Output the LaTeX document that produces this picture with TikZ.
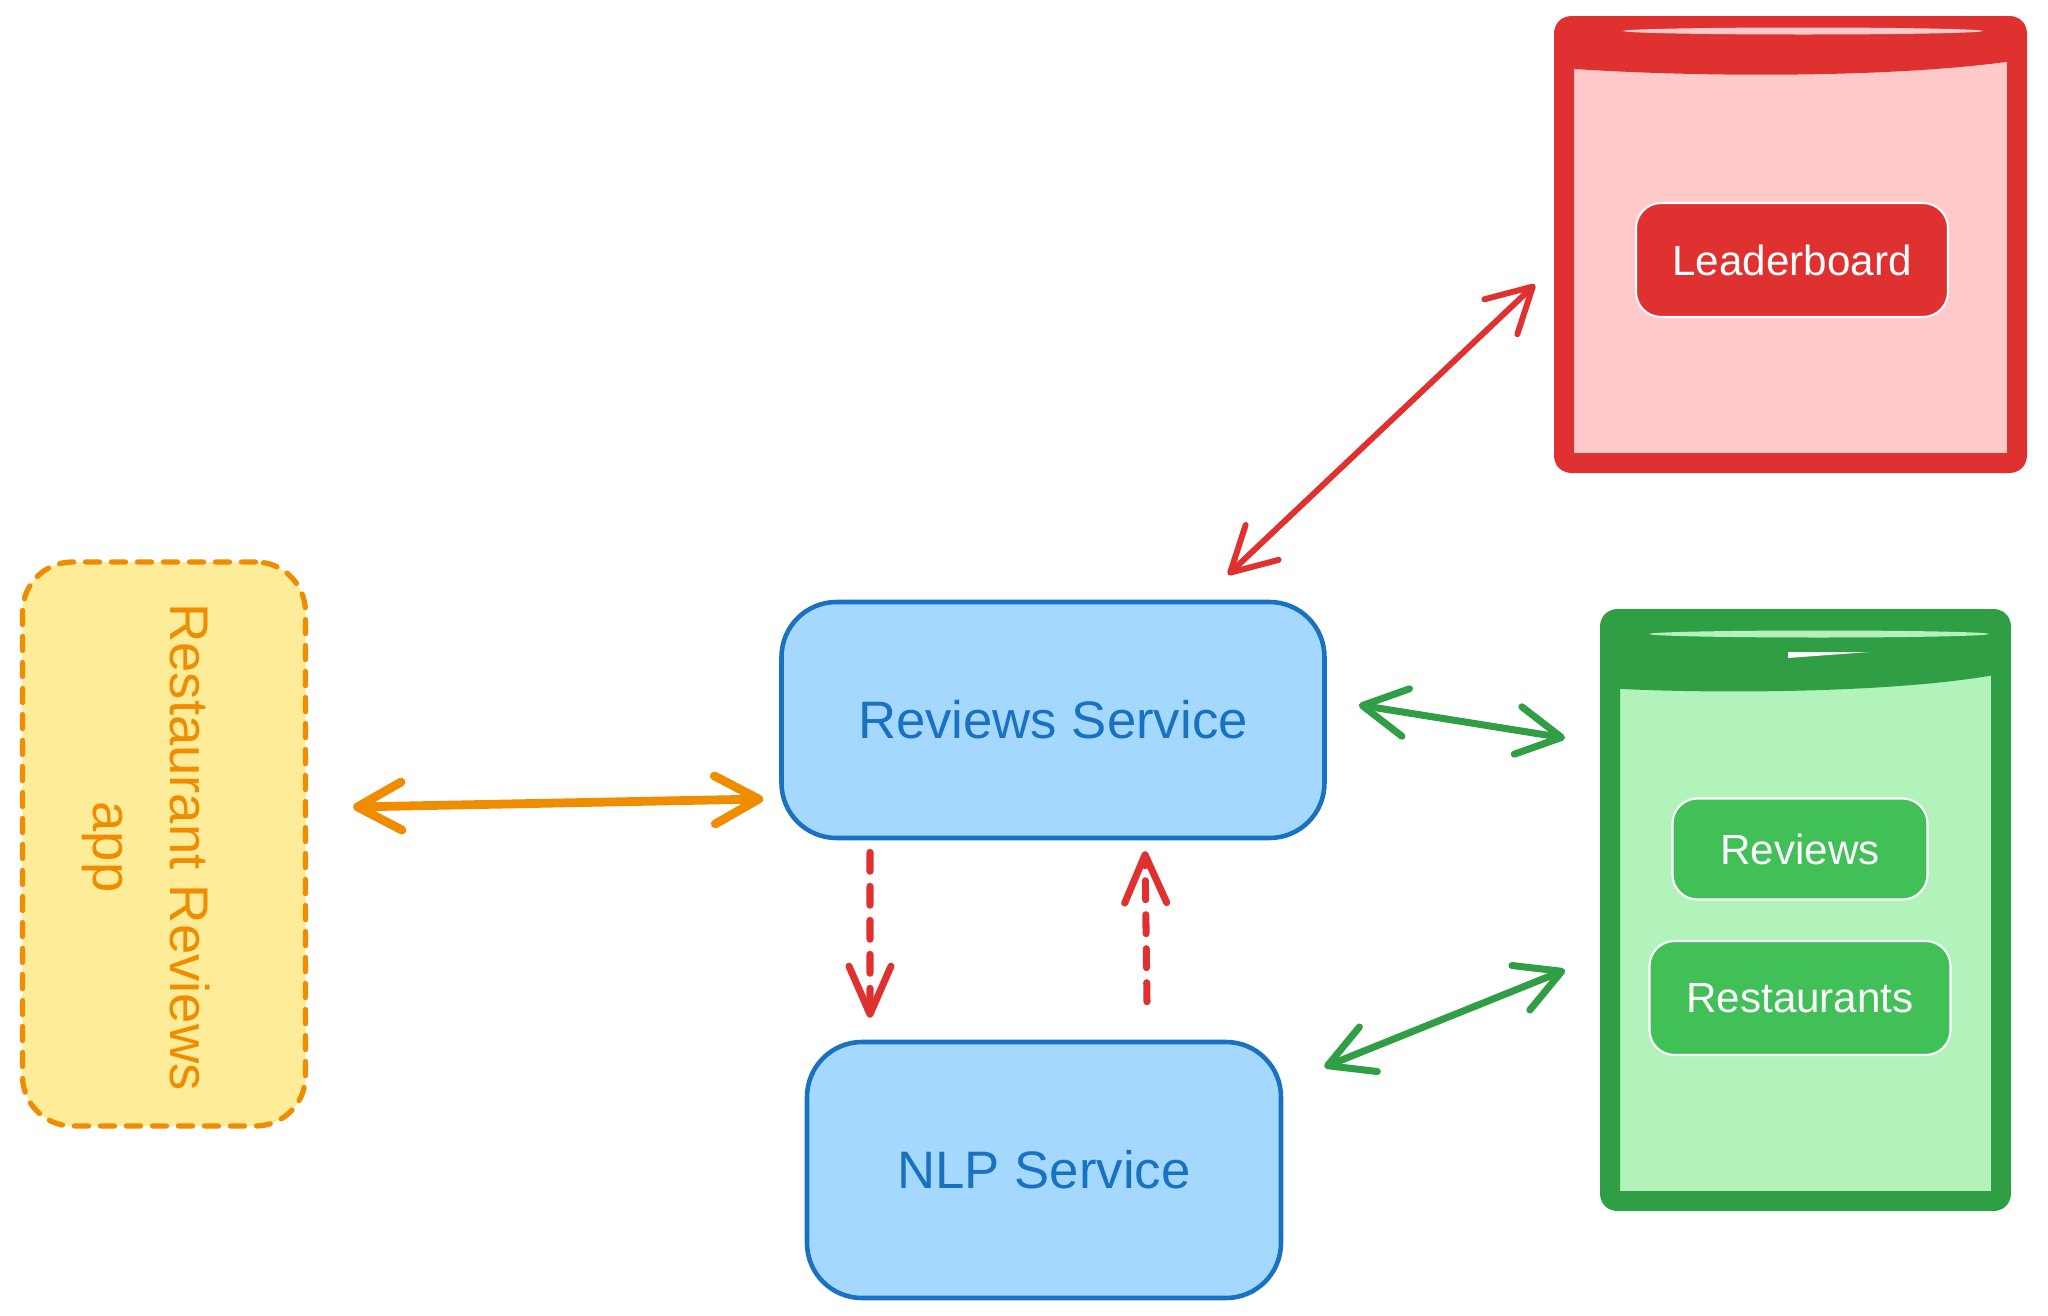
\documentclass[tikz,border=0pt]{standalone}
\usepackage{fontspec}
\setmainfont{Liberation Sans}
\usetikzlibrary{arrows.meta}
\definecolor{appfill}{HTML}{FFEC99}
\definecolor{appline}{HTML}{F08C00}
\definecolor{svcfill}{HTML}{A5D8FF}
\definecolor{svcline}{HTML}{1971C2}
\definecolor{lbfill}{HTML}{FFC9C9}
\definecolor{lbline}{HTML}{E03131}
\definecolor{dbfill}{HTML}{B2F2BB}
\definecolor{dbline}{HTML}{2F9E44}
\definecolor{dbbtn}{HTML}{40C057}
\begin{document}
\begin{tikzpicture}[line cap=round, line join=round,
	service/.style={draw=svcline, fill=svcfill, line width=1.3pt, rounded corners=0.55cm,
		inner sep=0pt, text=svcline, font=\fontsize{15}{18}\selectfont},
	store/.style={line width=0.2cm, rounded corners=2pt, inner sep=0pt},
	btn/.style={draw=white, line width=0.6pt, rounded corners=0.25cm, inner sep=0pt,
		text=white, font=\fontsize{12}{14}\selectfont},
	twoway/.style={line width=#1, {Straight Barb[length=4.4mm, width=4.8mm, round]}-{Straight Barb[length=4.4mm, width=4.8mm, round]}},
	call/.style={draw=lbline, line width=2pt, dash pattern=on 1.9mm off 1.5mm, -{Straight Barb[length=4.8mm, width=4.2mm, round]}}]
	\useasboundingbox (0,0) rectangle (20.48,-13.16);
	
	% client app
	\node[draw=appline, fill=appfill, line width=1.5pt, dash pattern=on 1.4mm off 1.2mm,
		rounded corners=0.5cm, minimum width=2.83cm, minimum height=5.64cm] (app) at (1.64,-8.44) {};
	\node[rotate=-90, align=center, text=appline, font=\fontsize{15.5}{22}\selectfont]
		at (1.46,-8.47) {Restaurant Reviews\\app};
	
	% services
	\node[service, minimum width=5.43cm, minimum height=2.36cm] (reviews) at (10.53,-7.20) {Reviews Service};
	\node[service, minimum width=4.74cm, minimum height=2.56cm] (nlp) at (10.44,-11.70) {NLP Service};
	
	% leaderboard store
	\node[store, draw=lbline, fill=lbfill, minimum width=4.53cm, minimum height=4.37cm] (lb) at (17.905,-2.445) {};
	\fill[lbline] (15.6,-0.2) -- (20.2,-0.2) -- (20.2,-0.6) .. controls (19,-0.78) and (17,-0.78) .. (15.6,-0.68) -- cycle;
	\fill[lbfill] (18.03,-0.31) ellipse (1.8 and 0.035);
	\node[btn, fill=lbline, minimum width=3.12cm, minimum height=1.14cm] (board) at (17.92,-2.60) {Leaderboard};
	
	% reviews store
	\node[store, draw=dbline, fill=dbfill, minimum width=3.91cm, minimum height=5.82cm] (db) at (18.055,-9.10) {};
	\fill[dbline] (16.05,-6.15) -- (20.05,-6.15) -- (20.05,-6.73) .. controls (19,-6.94) and (17,-6.94) .. (16.05,-6.88) -- cycle;
	\fill[dbfill] (18.19,-6.34) ellipse (1.7 and 0.035);
	\fill[white] (17.88,-6.52) -- (18.69,-6.52) -- (17.88,-6.58) -- cycle;
	\node[btn, fill=dbbtn, minimum width=2.55cm, minimum height=1.01cm] (revtab) at (18.0,-8.49) {Reviews};
	\node[btn, fill=dbbtn, minimum width=3.01cm, minimum height=1.14cm] (resttab) at (18.0,-9.98) {Restaurants};
	
	% connectors
	\draw[twoway=2.5pt, appline] ([xshift=4.5mm,yshift=3.7mm]app.east) -- ([xshift=-1.6mm,yshift=-7.9mm]reviews.west);
	\draw[twoway=1.7pt, lbline] ([xshift=17.5mm,yshift=2.5mm]reviews.north) -- ([xshift=-1.9mm,yshift=-4mm]lb.west);
	\draw[twoway=2pt, dbline] ([xshift=3.2mm,yshift=1.5mm]reviews.east) -- ([xshift=-3.5mm,yshift=17.2mm]db.west);
	\draw[twoway=2pt, dbline] ([xshift=4.1mm,yshift=10.3mm]nlp.east) -- ([xshift=-3.5mm,yshift=-6mm]db.west);
	\draw[call] ([xshift=-18.3mm,yshift=-1.2mm]reviews.south) -- ([xshift=-17.4mm,yshift=2.2mm]nlp.north);
	\draw[call] ([xshift=10.3mm,yshift=3.8mm]nlp.north) -- ([xshift=9.2mm,yshift=-1.1mm]reviews.south);
\end{tikzpicture}
\end{document}
